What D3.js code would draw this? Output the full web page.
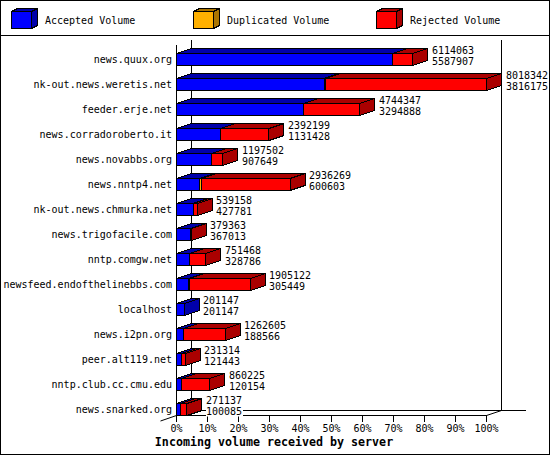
<!DOCTYPE html>
<html>
<head>
<meta charset="utf-8">
<script src="https://cdn.jsdelivr.net/npm/d3@7"></script>
<style>
html, body { margin: 0; padding: 0; background: #fff; }
svg { display: block; }
text { font-family: "DejaVu Sans Mono", monospace; font-size: 10px; fill: #000; }
.title { font-size: 11.65px; font-weight: bold; }
.shape { shape-rendering: crispEdges; }
</style>
</head>
<body>
<svg width="550" height="455"></svg>
<script>
var servers = ["news.quux.org", "nk-out.news.weretis.net", "feeder.erje.net", "news.corradoroberto.it",
    "news.novabbs.org", "news.nntp4.net", "nk-out.news.chmurka.net", "news.trigofacile.com",
    "nntp.comgw.net", "newsfeed.endofthelinebbs.com", "localhost", "news.i2pn.org",
    "peer.alt119.net", "nntp.club.cc.cmu.edu", "news.snarked.org"];
var totals = [6114063, 8018342, 4744347, 2392199, 1197502, 2936269, 539158, 379363,
    751468, 1905122, 201147, 1262605, 231314, 860225, 271137];
var accepted = [5587907, 3816175, 3294888, 1131428, 907649, 600603, 427781, 367013,
    328786, 305449, 201147, 188566, 121443, 120154, 100085];
var duplicated = [0, 40000, 0, 0, 0, 35000, 0, 0, 0, 40000, 0, 0, 0, 0, 0];
var rejected = [526156, 4162167, 1449459, 1260771, 289853, 2300666, 111377, 12350,
    422682, 1559673, 0, 1074039, 109871, 740071, 171052];
var percentTicks = [0, 10, 20, 30, 40, 50, 60, 70, 80, 90, 100];
var legendNames = ["Accepted Volume", "Duplicated Volume", "Rejected Volume"];
var frontColors = ["#0000ff", "#ffb000", "#ff0000"];
var darkColors = ["#0000aa", "#aa7400", "#aa0000"];

var svg = d3.select("svg");
var depthX = 15, depthY = 5, barH = 12;
var maxTotal = d3.max(totals);

var x = d3.scaleLinear().domain([0, 100]).range([176.5, 486.5]);
var y = d3.scalePoint().domain(servers).range([53.5, 403.5]);
var floorY = 415.5;

function poly(g, pts, fill) {
    return g.append("polygon")
        .attr("class", "shape")
        .attr("points", pts.map(function(p) { return p.join(","); }).join(" "))
        .attr("fill", fill)
        .attr("stroke", "#000");
}
function line(x1, y1, x2, y2, crisp) {
    svg.append("line")
        .attr("class", crisp === false ? "" : "shape")
        .attr("x1", x1).attr("y1", y1).attr("x2", x2).attr("y2", y2)
        .attr("stroke", "#000");
}

// frame and legend
svg.append("rect").attr("class", "shape")
    .attr("x", 0.5).attr("y", 0.5).attr("width", 549).attr("height", 454)
    .attr("fill", "#fff").attr("stroke", "#000");
line(0, 35.5, 550, 35.5);

var legendX = [11.5, 193.5, 376.5];
legendNames.forEach(function(name, i) {
    var g = svg.append("g");
    var lx = legendX[i], w = 20, h = 17, top = 11.5;
    poly(g, [[lx, top], [lx + 6, top - 3], [lx + w + 6, top - 3], [lx + w, top]], darkColors[i]);
    poly(g, [[lx + w, top], [lx + w + 6, top - 3], [lx + w + 6, top + h - 3], [lx + w, top + h]], darkColors[i]);
    g.append("rect").attr("class", "shape")
        .attr("x", lx).attr("y", top).attr("width", w).attr("height", h)
        .attr("fill", frontColors[i]).attr("stroke", "#000");
    g.append("text").attr("x", lx + 33.5).attr("y", 24).text(name);
});

// chart box
line(x(0), 45, x(0), floorY);
line(x(0) + depthX, 40, x(0) + depthX, floorY - depthY);
line(x(100) + depthX, 40, x(100) + depthX, floorY - depthY);
line(x(0) + depthX, floorY - depthY, 526, floorY - depthY);
line(x(0), floorY, x(100), floorY);
line(x(0), floorY, x(0) + depthX, floorY - depthY, false);
line(x(100), floorY, x(100) + depthX, floorY - depthY, false);
line(x(0) - 16, floorY + 5.5, x(0), floorY, false);

// x axis
var xAxis = svg.append("g")
    .attr("transform", "translate(0," + floorY + ")")
    .call(d3.axisBottom(x).offset(0).tickValues(percentTicks).tickSize(6).tickPadding(3)
        .tickFormat(function(d) { return d + "%"; }));
xAxis.select(".domain").remove();
xAxis.selectAll("line").attr("class", "shape").attr("stroke", "#000");

svg.append("text").attr("class", "title")
    .attr("x", 274).attr("y", 446)
    .attr("text-anchor", "middle")
    .text("Incoming volume received by server");

// server labels
var yAxis = svg.append("g")
    .attr("transform", "translate(172,0)")
    .call(d3.axisLeft(y).offset(0).tickSize(0).tickPadding(0));
yAxis.select(".domain").remove();
yAxis.selectAll("text").attr("dy", null).attr("y", 9);

// bars, drawn from the stacked values
servers.forEach(function(name, i) {
    var g = svg.append("g");
    var top = y(name);
    var parts = [accepted[i], duplicated[i], rejected[i]];
    var start = 0, lastColor = 0;
    parts.forEach(function(v, c) {
        if (v === 0) return;
        var x0 = x(start / maxTotal * 100);
        var x1 = x((start + v) / maxTotal * 100);
        poly(g, [[x0, top], [x0 + depthX, top - depthY], [x1 + depthX, top - depthY], [x1, top]], darkColors[c]);
        g.append("rect").attr("class", "shape")
            .attr("x", x0).attr("y", top).attr("width", x1 - x0).attr("height", barH)
            .attr("fill", frontColors[c]).attr("stroke", "#000");
        start += v;
        lastColor = c;
    });
    var end = x(start / maxTotal * 100);
    poly(g, [[end, top], [end + depthX, top - depthY], [end + depthX, top + barH - depthY], [end, top + barH]], darkColors[lastColor]);

    // the value labels sit on white, hiding the floor line
    var lx = Math.round(end + depthX + 4);
    g.append("rect")
        .attr("x", lx).attr("y", top + 3)
        .attr("width", String(accepted[i]).length * 6 + 1).attr("height", 10)
        .attr("fill", "#fff");
    g.append("text").attr("x", lx).attr("y", top + 0.5).text(totals[i]);
    g.append("text").attr("x", lx).attr("y", top + 11.5).text(accepted[i]);
});
</script>
</body>
</html>
